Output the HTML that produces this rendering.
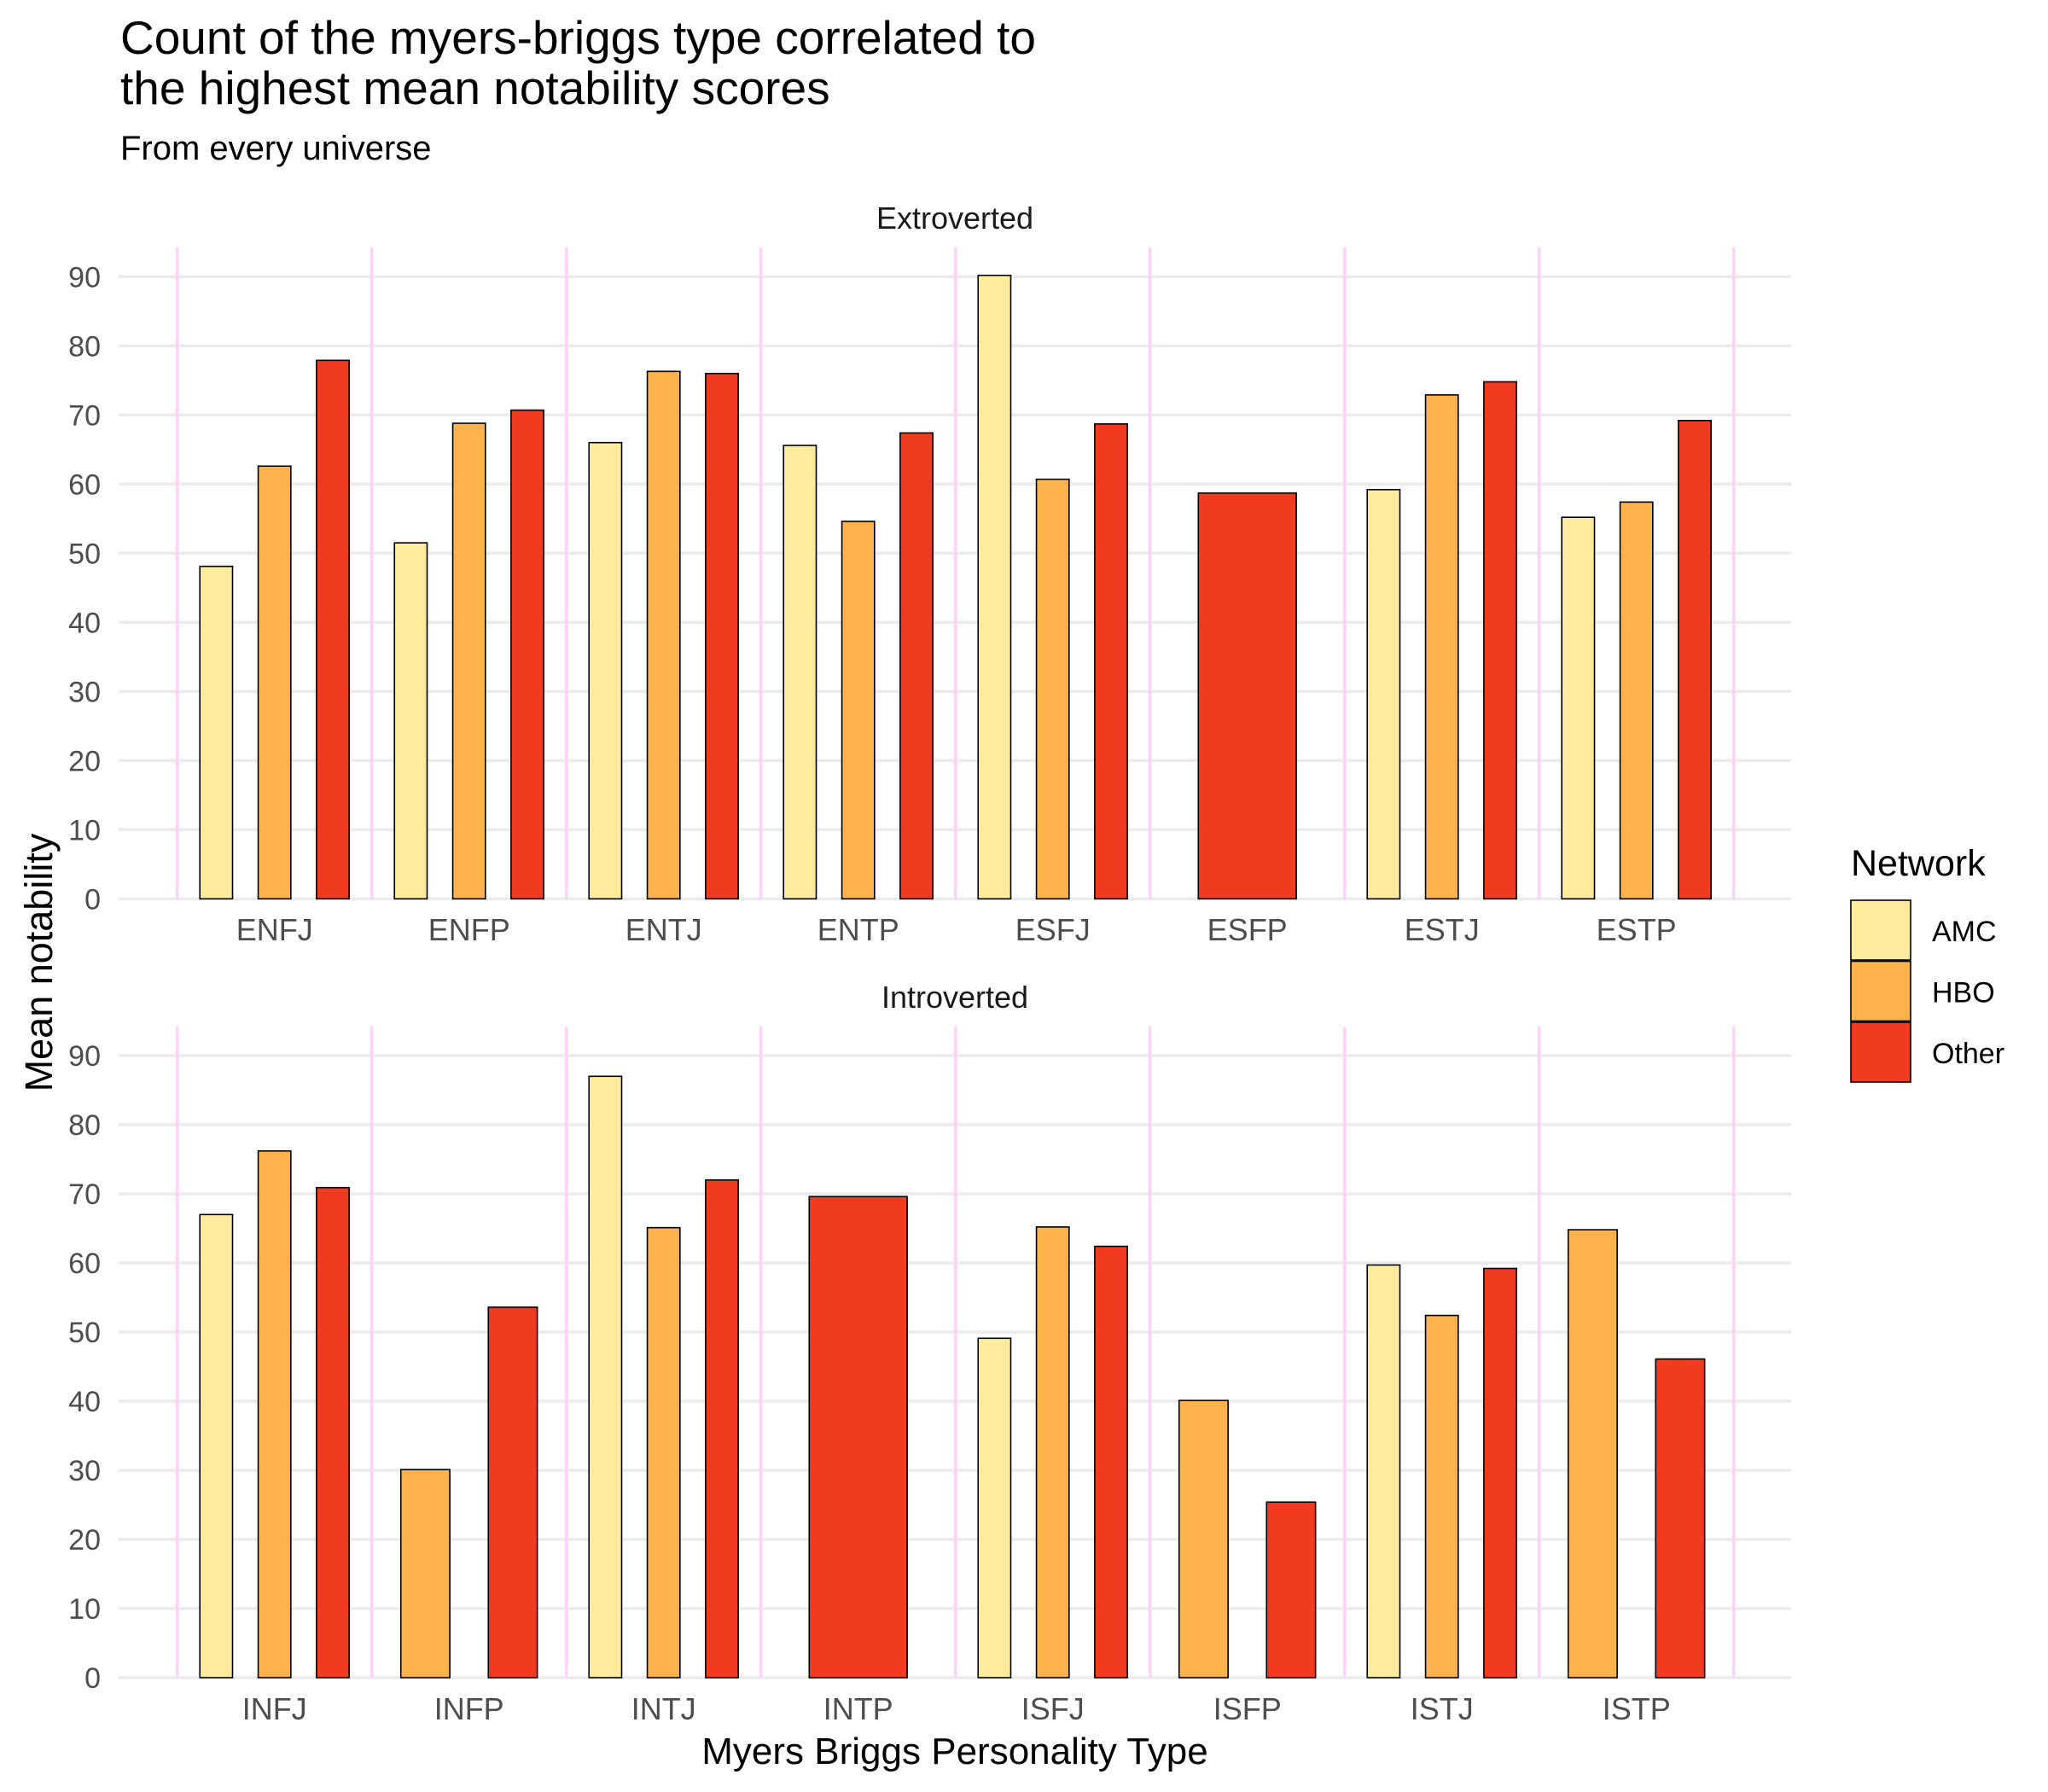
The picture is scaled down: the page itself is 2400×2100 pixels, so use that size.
<!DOCTYPE html>
<html><head><meta charset="utf-8"><style>
html,body{margin:0;padding:0;background:#fff;}
svg{display:block;font-family:"Liberation Sans",Arial,sans-serif;}
</style></head><body>
<svg id="chart" width="2400" height="2100" viewBox="0 0 2400 2100" xmlns="http://www.w3.org/2000/svg">
<rect width="2400" height="2100" fill="#fff"/>
<text x="141" y="63" font-size="55" fill="#000">Count of the myers-briggs type correlated to</text>
<text x="141" y="122" font-size="55" fill="#000">the highest mean notability scores</text>
<text x="141" y="187" font-size="40" fill="#000">From every universe</text>
<text transform="translate(61,1128) rotate(-90)" text-anchor="middle" font-size="45" fill="#000">Mean notability</text>
<text x="1119" y="2067" text-anchor="middle" font-size="44" fill="#000">Myers Briggs Personality Type</text>
<g id="panels"></g>
<g>
<text x="2169" y="1026" font-size="43" fill="#000">Network</text>
<g id="legend-items"></g>
</g>
</svg>
<script>
const seriesNames = ["AMC", "HBO", "Other"];
const seriesColors = ["#FEEB9E", "#FDB24C", "#F03B20"];
const yTicks = [0,10,20,30,40,50,60,70,80,90];
const extroCats = ["ENFJ","ENFP","ENTJ","ENTP","ESFJ","ESFP","ESTJ","ESTP"];
const extroAMC = [48.1, 51.5, 66.0, 65.6, 90.2, null, 59.2, 55.2];
const extroHBO = [62.6, 68.8, 76.3, 54.6, 60.7, null, 72.9, 57.4];
const extroOther = [77.9, 70.7, 76.0, 67.4, 68.7, 58.7, 74.8, 69.2];
const introCats = ["INFJ","INFP","INTJ","INTP","ISFJ","ISFP","ISTJ","ISTP"];
const introAMC = [67.0, null, 87.0, null, 49.1, null, 59.7, null];
const introHBO = [76.2, 30.1, 65.1, null, 65.2, 40.1, 52.4, 64.8];
const introOther = [70.9, 53.6, 72.0, 69.6, 62.4, 25.4, 59.2, 46.1];

const NS = "http://www.w3.org/2000/svg";
function mk(tag, attrs, parent){const e=document.createElementNS(NS,tag);for(const k in attrs)e.setAttribute(k,attrs[k]);parent.appendChild(e);return e;}

const plotL = 139, plotR = 2099;
const catStart = 207.7, catStep = 228;
const xCenter = i => catStart + catStep*(i+0.5);
const groupW = 205, pad = 0.44;

function drawPanel(label, cats, series, y0, y90, stripY, labelY, key){
  const g = mk("g", {}, document.getElementById("panels"));
  
  
  const yS = v => y0 - (v/90)*(y0-y90);
  const st = mk("text", {x:1119, y:stripY, "text-anchor":"middle", "font-size":"36", fill:"#1a1a1a"}, g);
  st.textContent = label;
  
  
  yTicks.forEach(t=>{
    const ln = mk("line", {x1:plotL, x2:plotR, y1:yS(t), y2:yS(t), stroke:"#ebebeb", "stroke-width":"3.5"}, g);
    
    
    const tx = mk("text", {x:118, y:yS(t)+12, "text-anchor":"end", "font-size":"34", fill:"#4d4d4d"}, g);
    tx.textContent = t;
    
    
  });
  for(let i=0;i<=cats.length;i++){
    const x = catStart + catStep*i;
    const vl = mk("line", {x1:x, x2:x, y1:y90-34, y2:y0, stroke:"#fbd3f5", "stroke-width":"3.5"}, g);
    
    
  }
  cats.forEach((c,i)=>{
    const present = [];
    series.forEach((arr,s)=>{ if(arr[i]!==null && arr[i]!==undefined) present.push(s); });
    const n = present.length;
    const slot = groupW/n;
    const bw = slot*(1-pad);
    present.forEach((s,j)=>{
      const cx = xCenter(i) - groupW/2 + slot*(j+0.5);
      const v = series[s][i];
      const r = mk("rect", {x:cx-bw/2, y:yS(v), width:bw, height:y0-yS(v), fill:seriesColors[s], stroke:"#000", "stroke-width":"1.6"}, g);
      
      
    });
    const lt = mk("text", {x:xCenter(i), y:labelY, "text-anchor":"middle", "font-size":"36", fill:"#4d4d4d"}, g);
    lt.textContent = c;
    
    
  });
}
drawPanel("Extroverted", extroCats, [extroAMC, extroHBO, extroOther], 1053.3, 324.3, 268, 1102, "extroverted");
drawPanel("Introverted", introCats, [introAMC, introHBO, introOther], 1966, 1237, 1181, 2015, "introverted");

const lg = document.getElementById("legend-items");
seriesNames.forEach((nm,s)=>{
  const y = 1055 + s*71.5;
  const r = mk("rect", {x:2169, y:y, width:70, height:70, fill:seriesColors[s], stroke:"#000", "stroke-width":"1.6"}, lg);
  
  
  const t = mk("text", {x:2264, y:y+48, "font-size":"34", fill:"#000"}, lg);
  t.textContent = nm;
  
  
});
</script>
</body></html>
